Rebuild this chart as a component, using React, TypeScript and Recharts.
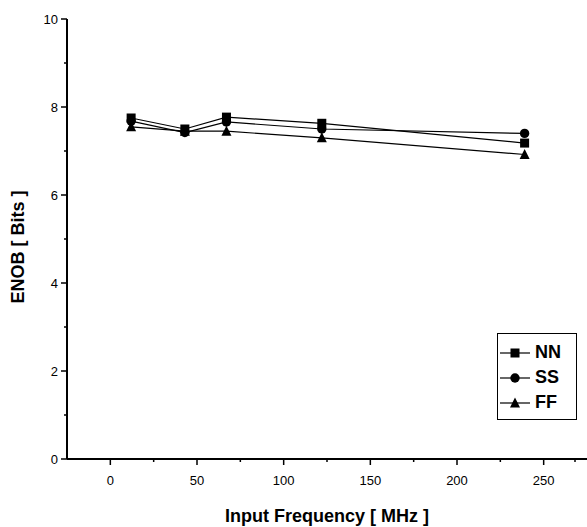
import { LineChart, Line, XAxis, YAxis } from "recharts";

const freqs = [12, 43, 67, 122, 239];
const nnValues = [7.75, 7.5, 7.77, 7.63, 7.18];
const ssValues = [7.68, 7.42, 7.66, 7.5, 7.4];
const ffValues = [7.55, 7.45, 7.45, 7.3, 6.92];

const xTicks = [0, 25, 50, 75, 100, 125, 150, 175, 200, 225, 250, 275];
const yTicks = [0, 1, 2, 3, 4, 5, 6, 7, 8, 9, 10];

const seriesNames = ["NN", "SS", "FF"];

const FONT = "'Liberation Sans', Arial, sans-serif";
const NARROW = "'Liberation Sans Narrow', 'Arial Narrow', 'Liberation Sans', sans-serif";

const data = freqs.map((f, i) => ({
  f,
  NN: nnValues[i],
  SS: ssValues[i],
  FF: ffValues[i],
}));

function Marker({ kind, cx, cy }: { kind: string; cx: number; cy: number }) {
  if (kind === "NN") return <rect x={cx - 4.5} y={cy - 4.5} width={9} height={9} fill="#000" />;
  if (kind === "SS") return <circle cx={cx} cy={cy} r={4.7} fill="#000" />;
  return <polygon points={`${cx},${cy - 5.5} ${cx - 5},${cy + 4.5} ${cx + 5},${cy + 4.5}`} fill="#000" />;
}

const dotFor = (kind: string) => (props: any) => {
  const { cx, cy, index } = props;
  if (cx == null || cy == null) return <g key={index} />;
  return (
    <g key={`${kind}-${index}`}>
      <Marker kind={kind} cx={cx} cy={cy} />
    </g>
  );
};

function XTick(props: any) {
  const { x, y, payload } = props;
  const major = payload.value % 50 === 0;
  return (
    <g>
      <line x1={x} y1={y} x2={x} y2={y + (major ? 6 : 3)} stroke="#000" strokeWidth={1.5} />
      {major && (
        <text x={x} y={y + 26} textAnchor="middle" fontSize={13} fontFamily={FONT} fill="#000">
          {payload.value}
        </text>
      )}
    </g>
  );
}

function YTick(props: any) {
  const { x, y, payload } = props;
  const major = payload.value % 2 === 0;
  return (
    <g>
      <line x1={x} y1={y} x2={x - (major ? 6 : 3)} y2={y} stroke="#000" strokeWidth={1.5} />
      {major && (
        <text x={x - 9} y={y + 4.5} textAnchor="end" fontSize={13} fontFamily={FONT} fill="#000">
          {payload.value}
        </text>
      )}
    </g>
  );
}

function LegendBox() {
  return (
    <div
      style={{
        position: "absolute",
        left: 497,
        top: 333,
        border: "1.5px solid #000",
        background: "#fff",
        width: 78,
        padding: "6px 0 4px 0",
        fontFamily: NARROW,
      }}
    >
      {seriesNames.map((name) => (
        <div key={name} style={{ display: "flex", alignItems: "center", height: 25 }}>
          <svg width={34} height={14}>
            <line x1={2} y1={7} x2={32} y2={7} stroke="#000" strokeWidth={1.2} />
            <Marker kind={name} cx={17} cy={7} />
          </svg>
          <span style={{ fontSize: 18, fontWeight: "bold", marginLeft: 3 }}>{name}</span>
        </div>
      ))}
    </div>
  );
}

export default function App() {
  return (
    <div style={{ position: "absolute", left: 0, top: 0, width: 587, height: 527, background: "#fff" }}>
      <LineChart width={587} height={527} data={data} margin={{ top: 19, right: 0, bottom: 0, left: 0 }}>
        <XAxis
          dataKey="f"
          type="number"
          domain={[-25, 275]}
          ticks={xTicks}
          allowDataOverflow
          height={68}
          tickSize={0}
          tickMargin={0}
          tickLine={false}
          axisLine={{ stroke: "#000", strokeWidth: 2 }}
          tick={<XTick />}
          label={{
            value: "Input Frequency [ MHz ]",
            position: "insideBottom",
            offset: 5,
            style: { fontFamily: NARROW, fontSize: 18, fontWeight: "bold", fill: "#000" },
          }}
        />
        <YAxis
          type="number"
          domain={[0, 10]}
          ticks={yTicks}
          width={67}
          tickSize={0}
          tickMargin={0}
          tickLine={false}
          axisLine={{ stroke: "#000", strokeWidth: 2 }}
          tick={<YTick />}
          label={(p: any) => {
            const vb = p.viewBox || { x: 0, y: 19, width: 67, height: 440 };
            const cx = vb.x + 18;
            const cy = vb.y + vb.height / 2 + 8;
            return (
              <text
                x={cx}
                y={cy}
                transform={`rotate(-90 ${cx} ${cy})`}
                textAnchor="middle"
                dominantBaseline="central"
                fontFamily={NARROW}
                fontSize={18}
                fontWeight="bold"
                fill="#000"
              >
                ENOB [ Bits ]
              </text>
            );
          }}
        />
        {seriesNames.map((name) => (
          <Line
            key={name}
            dataKey={name}
            stroke="#000"
            strokeWidth={1.2}
            dot={dotFor(name)}
            activeDot={false}
            isAnimationActive={false}
          />
        ))}
      </LineChart>
      <LegendBox />
    </div>
  );
}
